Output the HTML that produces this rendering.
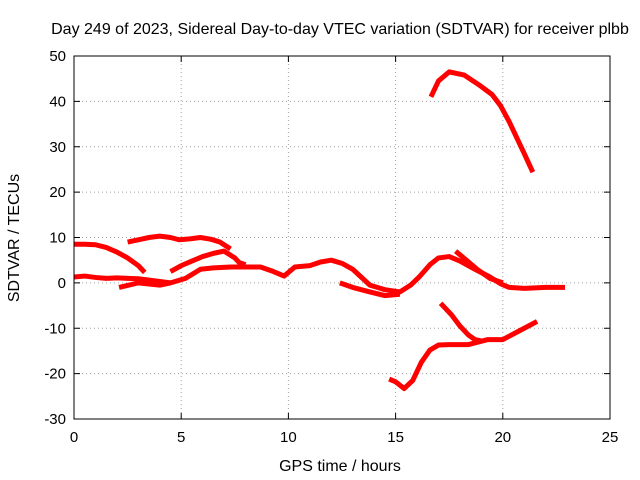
<!DOCTYPE html>
<html><head><meta charset="utf-8"><style>
body{margin:0;background:#fff;}
svg{display:block;font-family:"Liberation Sans",sans-serif;}
</style></head><body>
<svg id="chart" width="640" height="480" viewBox="0 0 640 480" xmlns="http://www.w3.org/2000/svg">
<rect width="640" height="480" fill="#fff"/>
<text x="340" y="34" font-size="16" text-anchor="middle" fill="#000">Day 249 of 2023, Sidereal Day-to-day VTEC variation (SDTVAR) for receiver plbb</text>
<text x="340" y="471" font-size="16" text-anchor="middle" fill="#000">GPS time / hours</text>
<text transform="translate(19,238) rotate(-90)" font-size="16" text-anchor="middle" fill="#000">SDTVAR / TECUs</text>
<g id="grid"></g><g id="series"></g><g id="axes"></g>
</svg>
<script>
const xTicks=[0,5,10,15,20,25];
const yTicks=[-30,-20,-10,0,10,20,30,40,50];
const track1X=[16.65,17.0,17.5,18.2,18.9,19.5,19.9,20.3,20.6,21.0,21.4];
const track1Y=[41,44.5,46.5,45.8,43.6,41.5,39,35.5,32.5,28.5,24.4];
const track2X=[0,0.5,1.0,1.5,2.0,2.5,3.0,3.3];
const track2Y=[8.5,8.5,8.4,7.8,6.8,5.5,3.8,2.3];
const track3X=[2.5,3.0,3.5,4.0,4.5,4.9,5.4,5.9,6.4,6.8,7.3];
const track3Y=[9,9.5,10,10.3,10,9.5,9.7,10,9.6,9,7.5];
const track4X=[0,0.5,1.0,1.5,2.0,2.5,3.0,3.5,4.0,4.5];
const track4Y=[1.3,1.5,1.2,1.0,1.1,1.0,0.9,0.6,0.3,0];
const track5X=[2.1,3.0,4.0,4.5,5.2,5.9,6.5,7.3,8.0,8.7,9.3,9.8,10.3,11.0,11.5,12.0,12.5,13.0,13.8,14.5,15.2,15.7,16.1,16.6,17.0,17.5,18.0,18.7,19.4,19.9,20.3,21.0,22.0,22.9];
const track5Y=[-1,0,-0.5,0,1,3,3.3,3.5,3.5,3.5,2.5,1.5,3.5,3.8,4.6,5,4.3,3,-0.5,-1.5,-2,-0.5,1.3,4,5.5,5.8,4.8,3,1.3,-0.2,-1,-1.2,-1,-1];
const track6X=[4.5,5.0,5.5,6.0,6.5,7.0,7.5,7.7,8.0];
const track6Y=[2.5,3.8,4.8,5.8,6.5,7,5.5,4.5,4];
const track7X=[12.4,13.0,13.8,14.5,15.2];
const track7Y=[0,-1,-2,-2.8,-2.5];
const track8X=[17.8,18.3,18.8,19.4,20.0];
const track8Y=[7,5,3,1,0];
const track9X=[17.1,17.6,18.0,18.4,18.7,19.0];
const track9Y=[-4.5,-7,-9.5,-11.5,-12.5,-12.8];
const track10X=[14.7,15.0,15.4,15.8,16.2,16.6,17.0,17.5,18.4,19.3,20.0,20.8,21.6];
const track10Y=[-21.2,-21.8,-23.3,-21.5,-17.5,-14.8,-13.7,-13.6,-13.6,-12.5,-12.5,-10.5,-8.5];
const tracksX=[track1X,track2X,track3X,track4X,track5X,track6X,track7X,track8X,track9X,track10X];
const tracksY=[track1Y,track2Y,track3Y,track4Y,track5Y,track6Y,track7Y,track8Y,track9Y,track10Y];
const L=74,R=610,T=56,B=419,NS="http://www.w3.org/2000/svg";
const sx=v=>L+(v-0)/25*(R-L);
const sy=v=>B-(v+30)/80*(B-T);
function mk(tag,attrs,parent){const e=document.createElementNS(NS,tag);for(const k in attrs)e.setAttribute(k,attrs[k]);parent.appendChild(e);return e;}
const grid=document.getElementById('grid'),axes=document.getElementById('axes'),ser=document.getElementById('series');
xTicks.forEach(t=>{
  if(t>0&&t<25){const g=mk('line',{x1:sx(t),x2:sx(t),y1:T,y2:B,stroke:'#a0a0a0','stroke-dasharray':'1,3'},grid);
  
  }
  mk('line',{x1:sx(t),x2:sx(t),y1:B,y2:B-6,stroke:'#000'},axes);
  mk('line',{x1:sx(t),x2:sx(t),y1:T,y2:T+6,stroke:'#000'},axes);
  const tx=mk('text',{x:sx(t),y:B+23,'font-size':15,'text-anchor':'middle'},axes);tx.textContent=t;
  
  
});
yTicks.forEach(t=>{
  if(t>-30&&t<50){const g=mk('line',{x1:L,x2:R,y1:sy(t),y2:sy(t),stroke:'#a0a0a0','stroke-dasharray':'1,3'},grid);
  
  }
  mk('line',{x1:L,x2:L+6,y1:sy(t),y2:sy(t),stroke:'#000'},axes);
  mk('line',{x1:R,x2:R-6,y1:sy(t),y2:sy(t),stroke:'#000'},axes);
  const tx=mk('text',{x:L-8,y:sy(t)+5,'font-size':15,'text-anchor':'end'},axes);tx.textContent=t;
  
  
});
const fr=mk('rect',{x:L,y:T,width:R-L,height:B-T,fill:'none',stroke:'#000'},axes);


tracksX.forEach((xs,i)=>{
  const ys=tracksY[i];
  const pts=xs.map((x,j)=>sx(x)+','+sy(ys[j])).join(' ');
  const p=mk('polyline',{points:pts,fill:'none',stroke:'#ff0000','stroke-width':5,'stroke-linejoin':'round','stroke-linecap':'butt'},ser);
  
  
});
</script>
</body></html>
